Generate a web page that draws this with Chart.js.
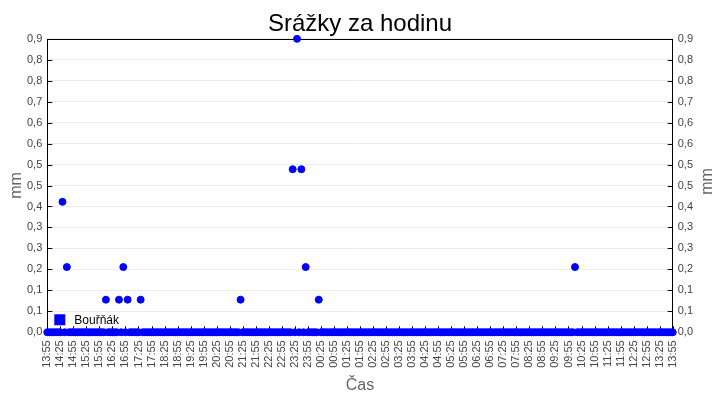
<!DOCTYPE html>
<html>
<head>
<meta charset="utf-8">
<script src="https://cdn.jsdelivr.net/npm/chart.js@4"></script>
<style>
  html, body { margin: 0; padding: 0; background: #fff; }
  #wrap { width: 720px; height: 400px; }
</style>
</head>
<body>
<div id="wrap"><canvas id="graf"></canvas></div>
<script>
// popisky osy X (po 30 min, od 13:55 do 13:55)
const casyOsy = ['13:55', '14:25', '14:55', '15:25', '15:55', '16:25', '16:55', '17:25', '17:55',
  '18:25', '18:55', '19:25', '19:55', '20:25', '20:55', '21:25', '21:55', '22:25', '22:55',
  '23:25', '23:55', '00:25', '00:55', '01:25', '01:55', '02:25', '02:55', '03:25', '03:55',
  '04:25', '04:55', '05:25', '05:55', '06:25', '06:55', '07:25', '07:55', '08:25', '08:55',
  '09:25', '09:55', '10:25', '10:55', '11:25', '11:55', '12:25', '12:55', '13:25', '13:55'];

// srážky po 5 min; jeden řádek = hh:55 .. hh+1:50
const srazky = [
  0, 0, 0, 0, 0, 0, 0, 0.4, 0, 0.2, 0, 0,        // 13:55
  0, 0, 0, 0, 0, 0, 0, 0, 0, 0, 0, 0,            // 14:55
  0, 0, 0, 0.1, 0, 0, 0, 0, 0, 0.1, 0, 0.2,      // 15:55
  0, 0.1, 0, 0, 0, 0, 0, 0.1, 0, 0, 0, 0,        // 16:55
  0, 0, 0, 0, 0, 0, 0, 0, 0, 0, 0, 0,            // 17:55
  0, 0, 0, 0, 0, 0, 0, 0, 0, 0, 0, 0,            // 18:55
  0, 0, 0, 0, 0, 0, 0, 0, 0, 0, 0, 0,            // 19:55
  0, 0, 0, 0, 0, 0.1, 0, 0, 0, 0, 0, 0,          // 20:55
  0, 0, 0, 0, 0, 0, 0, 0, 0, 0, 0, 0,            // 21:55
  0, 0, 0, 0, 0, 0.5, 0, 0.9, 0, 0.5, 0, 0.2,    // 22:55
  0, 0, 0, 0, 0, 0.1, 0, 0, 0, 0, 0, 0,          // 23:55
  0, 0, 0, 0, 0, 0, 0, 0, 0, 0, 0, 0,            // 00:55
  0, 0, 0, 0, 0, 0, 0, 0, 0, 0, 0, 0,            // 01:55
  0, 0, 0, 0, 0, 0, 0, 0, 0, 0, 0, 0,            // 02:55
  0, 0, 0, 0, 0, 0, 0, 0, 0, 0, 0, 0,            // 03:55
  0, 0, 0, 0, 0, 0, 0, 0, 0, 0, 0, 0,            // 04:55
  0, 0, 0, 0, 0, 0, 0, 0, 0, 0, 0, 0,            // 05:55
  0, 0, 0, 0, 0, 0, 0, 0, 0, 0, 0, 0,            // 06:55
  0, 0, 0, 0, 0, 0, 0, 0, 0, 0, 0, 0,            // 07:55
  0, 0, 0, 0, 0, 0, 0, 0, 0, 0, 0, 0,            // 08:55
  0, 0, 0, 0.2, 0, 0, 0, 0, 0, 0, 0, 0,          // 09:55
  0, 0, 0, 0, 0, 0, 0, 0, 0, 0, 0, 0,            // 10:55
  0, 0, 0, 0, 0, 0, 0, 0, 0, 0, 0, 0,            // 11:55
  0, 0, 0, 0, 0, 0, 0, 0, 0, 0, 0, 0,            // 12:55
  0                                              // 13:55
];

const stanice = 'Bouřňák';
const krokMin = 5;

const pisMo = '"Liberation Sans", Arial, sans-serif';
const modra = '#0000ff';

const formatMm = v => v.toFixed(1).replace('.', ',');

// ramecek, vnitrni carky, popisky os Y a legenda uvnitr grafu
const ramecek = {
  id: 'ramecek',
  beforeDatasetsDraw(chart) {
    const { ctx, chartArea: a, scales } = chart;
    ctx.save();
    ctx.strokeStyle = '#000';
    ctx.lineWidth = 1;
    ctx.strokeRect(Math.round(a.left) + 0.5, Math.round(a.top) + 0.5,
      Math.round(a.right - a.left), Math.round(a.bottom - a.top));
    ctx.beginPath();
    scales.x.ticks.forEach((t, i) => {
      const x = Math.round(scales.x.getPixelForTick(i)) + 0.5;
      ctx.moveTo(x, a.bottom); ctx.lineTo(x, a.bottom - 6);
    });
    scales.y.ticks.forEach((t, i) => {
      const y = Math.round(scales.y.getPixelForTick(i)) + 0.5;
      ctx.moveTo(a.left, y); ctx.lineTo(a.left + 5, y);
      ctx.moveTo(a.right, y); ctx.lineTo(a.right - 5, y);
    });
    ctx.stroke();

    // "mm" vlevo i vpravo, oba otocene zdola nahoru
    ctx.fillStyle = '#666';
    ctx.font = '16px ' + pisMo;
    ctx.textAlign = 'center';
    ctx.textBaseline = 'middle';
    const stred = (a.top + a.bottom) / 2;
    [[scales.y.left - 5, stred], [scales.y2.right + 10, stred - 4]].forEach(([x, y]) => {
      ctx.save();
      ctx.translate(x, y);
      ctx.rotate(-Math.PI / 2);
      ctx.fillText('mm', 0, 0);
      ctx.restore();
    });
    ctx.restore();
  },
  afterDatasetsDraw(chart) {
    const { ctx, chartArea: a } = chart;
    const ds = chart.data.datasets[0];
    ctx.save();
    ctx.fillStyle = ds.backgroundColor;
    ctx.fillRect(a.left + 7, a.bottom - 18, 11, 11);
    ctx.fillStyle = '#000';
    ctx.font = '12px ' + pisMo;
    ctx.textBaseline = 'middle';
    ctx.fillText(ds.label, a.left + 27, a.bottom - 12);
    ctx.restore();
  }
};

new Chart(document.getElementById('graf'), {
  type: 'scatter',
  data: {
    datasets: [{
      label: stanice,
      data: srazky.map((v, i) => ({ x: i * krokMin, y: v })),
      backgroundColor: modra,
      borderColor: modra,
      pointRadius: 3.5,
      pointHoverRadius: 3.5,
      showLine: false,
      clip: false
    }]
  },
  options: {
    responsive: true,
    maintainAspectRatio: false,
    animation: false,
    layout: { padding: { left: 22, right: 22, top: 0, bottom: 5 } },
    plugins: {
      legend: { display: false },
      tooltip: { enabled: false },
      title: {
        display: true,
        text: 'Srážky za hodinu',
        color: '#000',
        font: { family: pisMo, size: 24, weight: 'normal' },
        padding: { top: 10, bottom: 0 }
      }
    },
    scales: {
      x: {
        type: 'linear',
        min: 0,
        max: 1440,
        grid: { display: false, drawTicks: false },
        border: { display: false },
        ticks: {
          stepSize: 30,
          autoSkip: false,
          maxRotation: 90,
          minRotation: 90,
          padding: 8,
          color: '#444',
          font: { family: pisMo, size: 11 },
          callback: (v, i) => casyOsy[i]
        },
        title: {
          display: true,
          text: 'Čas',
          color: '#666',
          font: { family: pisMo, size: 16 },
          padding: { top: 0, bottom: 0 }
        }
      },
      y: {
        position: 'left',
        min: 0,
        max: 0.9,
        grid: { color: '#ebebeb', drawTicks: false },
        border: { display: false },
        ticks: {
          count: 15,
          padding: 5,
          color: '#444',
          font: { family: pisMo, size: 11 },
          callback: v => formatMm(v)
        }
      },
      y2: {
        position: 'right',
        min: 0,
        max: 0.9,
        grid: { display: false, drawTicks: false },
        border: { display: false },
        ticks: {
          count: 15,
          padding: 5,
          color: '#444',
          font: { family: pisMo, size: 11 },
          callback: v => formatMm(v)
        }
      }
    }
  },
  plugins: [ramecek]
});
</script>
</body>
</html>
